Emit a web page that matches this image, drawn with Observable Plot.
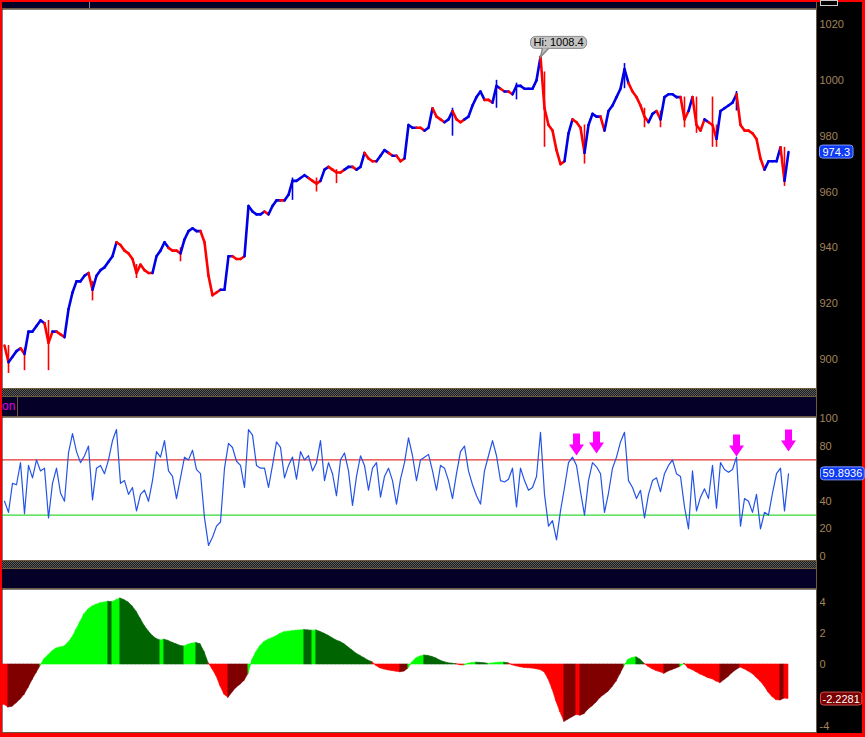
<!DOCTYPE html>
<html><head><meta charset="utf-8">
<script src="https://cdn.jsdelivr.net/npm/d3@7"></script>
<script src="https://cdn.jsdelivr.net/npm/@observablehq/plot@0.6"></script>
<style>
html,body{margin:0;padding:0;background:#ff0000;}
#wrap{position:relative;width:865px;height:737px;background:#ff0000;overflow:hidden;font-family:"Liberation Sans",Arial,sans-serif;}
.a{position:absolute;}
.navy{background:#050028;}
.brown{background:#6e5a3c;height:1px;}
.hatch{background:repeating-conic-gradient(#5a5a5a 0 25%, #1e1e1e 0 50%) 0 0/2px 2px;}
.pan{position:absolute;left:2px;width:860px;}
.pan svg{display:block;}
</style></head><body>
<div id="wrap">
  <div class="a" style="left:2px;top:2px;width:860px;height:731px;background:#000"></div>
  <div class="a navy" style="left:2px;top:2px;width:814px;height:6px"></div>
  <div class="a" style="left:89px;top:2px;width:1px;height:6px;background:#888"></div>
  <div class="a" style="left:820px;top:0px;width:16px;height:4px;border:1px solid #ccc;background:#000"></div>
  <div class="a brown" style="left:2px;top:8px;width:814px"></div>
  <div class="pan" id="p1" style="top:9px"></div>
  <div class="a brown" style="left:2px;top:388px;width:814px"></div>
  <div class="a hatch" style="left:2px;top:389px;width:814px;height:7px"></div>
  <div class="a brown" style="left:2px;top:396px;width:814px"></div>
  <div class="a navy" style="left:2px;top:397px;width:814px;height:19px"></div>
  <div class="a" style="left:2px;top:397px;height:19px;line-height:19px;font-size:12px;color:#e000e0">on</div>
  <div class="a" style="left:17px;top:397px;width:1px;height:19px;background:#6e5a3c"></div>
  <div class="a brown" style="left:2px;top:416px;width:814px"></div>
  <div class="pan" id="p2" style="top:417px"></div>
  <div class="a brown" style="left:2px;top:560px;width:814px"></div>
  <div class="a hatch" style="left:2px;top:561px;width:814px;height:7px"></div>
  <div class="a brown" style="left:2px;top:568px;width:814px"></div>
  <div class="a navy" style="left:2px;top:569px;width:814px;height:19px"></div>
  <div class="a brown" style="left:2px;top:588px;width:814px"></div>
  <div class="pan" id="p3" style="top:589px"></div>
  <div class="a brown" style="left:2px;top:732px;width:814px"></div>
  <div class="a" style="left:816px;top:2px;width:1px;height:731px;background:#6e5a3c"></div>
</div>
<script>
// ---------- DATA ----------
const price = [
  905, 899, 901, 903, 904, 902, 910, 910, 912, 914,
  913, 906, 910, 910, 909, 908, 918, 924, 928, 928,
  930, 931, 925, 930, 932, 933, 935, 937, 942, 941,
  939, 938, 936, 931, 934, 932, 931, 931, 937, 939,
  942, 940, 939, 939, 938, 943, 946, 947, 946, 946,
  942, 930, 923, 924, 925, 925, 937, 937, 936, 936,
  937, 955, 953, 952, 952, 953, 952, 955, 957, 957,
  957, 959, 964, 964, 965, 966, 965, 964, 963, 964,
  968, 969, 968, 967, 967, 968, 969, 969, 968, 969,
  974, 972, 971, 971, 973, 975, 974, 973, 973, 971,
  972, 984, 983, 983, 983, 982, 983, 990, 987, 986,
  985, 986, 989, 986, 985, 986, 987, 991, 994, 996,
  993, 993, 992, 998, 997, 996, 996, 995, 998, 998,
  997, 997, 997, 1000, 1008.4, 990, 984, 982, 975, 970,
  971, 981, 986, 985, 983, 974, 984, 988, 987, 987,
  982, 989, 991, 994, 997, 1004, 999, 996, 994, 991,
  987, 985, 988, 989, 986, 994, 995, 995, 994, 994,
  986, 989, 994, 984, 982, 986, 985, 984, 979, 989,
  990, 991, 992, 995, 984, 982, 982, 981, 979, 972,
  968, 971, 971, 971, 976, 964, 974.3
];
// trend colour of each bar: runs of "u" (blue, up) / "d" (red, down)
const trendRuns = [
  ["d",2],["u",3],["d",1],["u",5],["d",2],["u",1],["d",2],["u",6],["d",1],["u",6],
  ["d",9],["u",4],["d",3],["u",5],["d",5],["u",3],["d",3],["u",5],["d",1],["u",3],
  ["d",1],["u",6],["d",3],["u",2],["d",4],["u",2],["d",1],["u",2],["d",3],["u",3],
  ["d",1],["u",1],["d",2],["u",3],["d",2],["u",2],["d",3],["u",2],["d",3],["u",5],
  ["d",2],["u",2],["d",1],["u",1],["d",1],["u",7],["d",6],["u",2],["d",3],["u",4],
  ["d",1],["u",6],["d",5],["u",2],["d",1],["u",5],["d",2],["u",1],["d",3],["u",1],
  ["d",2],["u",5],["d",7],["u",4],["d",1],["u",1]
];
const wickIdx  = [1, 5, 11, 22, 33, 44, 72, 78, 83, 112, 123, 128, 135, 145, 155, 160, 164, 170, 173, 177, 178, 183, 195];
const wickLow  = [895, 896, 896, 921, 929, 935, 957, 960, 963, 980, 990, 993, 976, 970, 997, 983, 983, 983, 981, 976, 976, 989, 962];
const wickHigh = [905, 904, 914, 928, 934, 940, 965, 965, 968, 990, 1000, 999, 1003, 984, 1006, 990, 989, 994, 994, 994, 984, 996, 976];

const rsi = [
  40, 32, 53, 52, 68, 31, 66, 57, 70, 62,
  64, 28, 53, 64, 46, 40, 75, 89, 76, 68,
  73, 80, 41, 64, 66, 60, 70, 84, 92, 53,
  55, 45, 50, 33, 45, 48, 40, 55, 76, 72,
  84, 62, 58, 42, 57, 72, 70, 77, 63, 60,
  28, 8, 14, 22, 25, 64, 82, 79, 69, 66,
  50, 92, 88, 66, 64, 64, 50, 66, 83, 79,
  57, 66, 72, 56, 76, 70, 73, 62, 68, 84,
  55, 68, 60, 44, 70, 75, 62, 37, 58, 73,
  66, 48, 64, 68, 43, 58, 64, 55, 38, 56,
  68, 86, 73, 55, 70, 72, 74, 62, 48, 66,
  64, 55, 42, 60, 76, 80, 62, 52, 44, 38,
  62, 73, 84, 73, 55, 54, 56, 64, 36, 64,
  55, 48, 50, 58, 90, 45, 22, 26, 12, 33,
  50, 68, 72, 66, 47, 30, 55, 68, 65, 60,
  32, 46, 64, 72, 83, 90, 55, 50, 42, 48,
  28, 45, 55, 57, 47, 60, 66, 70, 60, 58,
  36, 20, 62, 33, 43, 49, 42, 66, 35, 68,
  63, 61, 63, 72, 22, 42, 40, 32, 45, 20,
  32, 30, 46, 60, 64, 33, 59.8936
];
const rsiUpper = 70, rsiLower = 30;
const signalIdx = [143, 148, 183, 196];
const signalLevel = [73.2, 74.6, 72.5, 76.1];

const hist = [
  -2.6, -2.78, -2.72, -2.5, -2.25, -1.95, -1.5, -1.0, -0.55, -0.1,
  0.35, 0.6, 0.85, 1.03, 1.1, 1.16, 1.4, 1.74, 2.25, 2.75,
  3.25, 3.55, 3.75, 3.85, 3.95, 4.0, 4.05, 4.02, 4.15, 4.26,
  4.15, 4.0, 3.75, 3.4, 2.95, 2.5, 2.15, 1.85, 1.65, 1.55,
  1.6, 1.52, 1.4, 1.3, 1.2, 1.16, 1.28, 1.35, 1.38, 1.3,
  0.8, 0.1, -0.3, -0.75, -1.4, -1.95, -2.15, -1.8, -1.5, -1.3,
  -1.05, -0.6, 0.3, 0.8, 1.2, 1.45, 1.6, 1.7, 1.82, 1.98,
  2.08, 2.12, 2.15, 2.18, 2.2, 2.22, 2.2, 2.18, 2.2, 2.1,
  1.98, 1.85, 1.7, 1.55, 1.45, 1.3, 1.1, 0.9, 0.7, 0.55,
  0.4, 0.25, 0.15, -0.1, -0.25, -0.32, -0.38, -0.42, -0.46, -0.5,
  -0.45, -0.25, 0.15, 0.4, 0.52, 0.58, 0.55, 0.48, 0.38, 0.25,
  0.15, 0.08, 0.05, 0.02, -0.05, -0.06, 0.05, 0.1, 0.12, 0.1,
  0.08, 0.04, 0.06, 0.1, 0.12, 0.12, 0.08, -0.05, -0.12, -0.18,
  -0.22, -0.24, -0.26, -0.3, -0.36, -0.5, -0.95, -1.6, -2.4, -3.1,
  -3.7, -3.55, -3.4, -3.25, -3.3, -3.2, -2.9, -2.7, -2.45, -2.15,
  -1.95, -1.75, -1.45, -1.1, -0.6, -0.1, 0.3, 0.42, 0.46, 0.3,
  0.05, -0.15, -0.3, -0.42, -0.5, -0.6, -0.45, -0.35, -0.25, -0.15,
  0.05, -0.25, -0.35, -0.5, -0.65, -0.75, -0.88, -0.95, -1.1, -1.2,
  -1.0, -0.8, -0.55, -0.35, -0.2, -0.3, -0.45, -0.6, -0.85, -1.1,
  -1.4, -1.8, -2.1, -2.3, -2.32, -2.2, -2.2281
];

const priceTicks = [900, 920, 940, 960, 980, 1000, 1020];
const rsiTicks = [0, 20, 40, 60, 80, 100];
const histTicks = [-4, -2, 0, 2, 4];

// ---------- STYLE ----------
const BLUE = "#0000e8", RED = "#ff0000";
const FONT = "'Liberation Sans', Arial, Helvetica, sans-serif";
const X_DOMAIN = [-0.5, 203];

// ---------- DERIVED TABLES ----------
const trend = trendRuns.flatMap(([t, n]) => Array(n).fill(t));
const colOf = i => trend[i] === "d" ? RED : BLUE;
const segs = [];
for (let i = 1; i < price.length; ++i) segs.push({x1: i - 1, y1: price[i - 1], x2: i, y2: price[i], c: colOf(i)});
const wicks = wickIdx.map((i, k) => ({i, lo: wickLow[k], hi: wickHigh[k], c: colOf(i)}));
const hiI = d3.maxIndex(price);
const hiPt = [{i: hiI, v: price[hiI]}];
const rsiData = rsi.map((v, i) => ({i, v}));
const signals = signalIdx.map((i, k) => ({i, v: signalLevel[k]}));
const histColor = hist.map((v, i) => {
  const p = i > 0 ? hist[i - 1] : v + 0.01;
  return v >= 0 ? (v >= p ? "#00ff00" : "#006400") : (v <= p ? "#ff0000" : "#800000");
});
// one filled piece per bar, joining the previous value to this one
const histPts = [];
hist.forEach((v, i) => {
  const a = i > 0 ? {x: i - 1, y: hist[i - 1]} : {x: -0.5, y: v};
  histPts.push({s: i, x: a.x, y: a.y, c: histColor[i]});
  histPts.push({s: i, x: i, y: v, c: histColor[i]});
});

// custom symbols
const arrowDown = {draw(c) {
  c.moveTo(-3.5, -22); c.lineTo(3.5, -22); c.lineTo(3.5, -11); c.lineTo(7.5, -11);
  c.lineTo(0, 0); c.lineTo(-7.5, -11); c.lineTo(-3.5, -11); c.closePath();
}};
const pointer = {draw(c) { c.moveTo(2, -8.5); c.lineTo(0, 0); c.lineTo(8, -8.5); }};

// axis tick labels that sit under the last-value box are hidden, as on the terminal
function visibleTicks(ticks, domain, height, last) {
  const px = height / (domain[1] - domain[0]);
  return ticks.filter(t => Math.abs(t - last) * px > 9);
}

function panel(height, domain, ticks, last, marks) {
  return Plot.plot({
    width: 860, height, marginTop: 0, marginBottom: 0, marginLeft: 0, marginRight: 46,
    x: {domain: X_DOMAIN, axis: null},
    y: {domain, axis: "right", ticks: visibleTicks(ticks, domain, height, last), tickSize: 0, tickPadding: 3, tickFormat: d => String(d), label: null},
    color: {type: "identity"},
    style: {background: "#000", color: "#a3845c", fontSize: "11px", fontFamily: FONT, overflow: "visible"},
    marks: [Plot.frame({fill: "#fff", stroke: "none"}), ...marks]
  });
}

const lastOf = arr => arr[arr.length - 1];
const lastLabel = arr => Plot.text([{v: lastOf(arr)}], {y: "v", frameAnchor: "right", dx: 6, textAnchor: "start", text: d => String(d.v), fill: "#fff", fontSize: 11});

const p1 = panel(379, [889.61, 1025.37], priceTicks, lastOf(price), [
  Plot.ruleX(wicks, {x: "i", y1: "lo", y2: "hi", stroke: "c", strokeWidth: 1.6}),
  Plot.link(segs, {x1: "x1", y1: "y1", x2: "x2", y2: "y2", stroke: "c", strokeWidth: 2.6, strokeLinecap: "round"}),
  Plot.text(hiPt, {x: "i", y: "v", text: d => "Hi: " + d.v, dx: -7, dy: -14, textAnchor: "start", fill: "#000", fontSize: 11}),
  Plot.dot(hiPt, {x: "i", y: "v", symbol: pointer, fill: "#c4c4c4", stroke: "#8a8a8a"}),
  lastLabel(price)
]);
const p2 = panel(143, [-2.9, 100.72], rsiTicks, lastOf(rsi), [
  Plot.ruleY([rsiUpper], {stroke: "#e00000"}),
  Plot.ruleY([rsiLower], {stroke: "#00d000"}),
  Plot.line(rsiData, {x: "i", y: "v", stroke: "#2454e6", strokeWidth: 1.2}),
  Plot.dot(signals, {x: "i", y: "v", symbol: arrowDown, fill: "#ff00ff", stroke: "none"}),
  lastLabel(rsi)
]);
const p3 = panel(143, [-4.387, 4.839], histTicks, lastOf(hist), [
  Plot.area(histPts, {x1: "x", y1: () => 0, y2: "y", z: "s", fill: "c", stroke: "c", strokeWidth: 0.6}),
  lastLabel(hist)
]);

document.getElementById("p1").appendChild(p1);
document.getElementById("p2").appendChild(p2);
document.getElementById("p3").appendChild(p3);

// rounded value boxes drawn behind the given texts
function boxes(svg, str, o) {
  const sb = svg.getBoundingClientRect();
  svg.querySelectorAll("text").forEach(t => {
    if (t.textContent !== str) return;
    const r = t.getBoundingClientRect();
    const rect = document.createElementNS("http://www.w3.org/2000/svg", "rect");
    rect.setAttribute("x", r.left - sb.left - o.px);
    rect.setAttribute("y", r.top - sb.top - o.py);
    rect.setAttribute("width", r.width + 2 * o.px);
    rect.setAttribute("height", r.height + 2 * o.py);
    rect.setAttribute("rx", o.rx);
    rect.setAttribute("fill", o.fill);
    rect.setAttribute("stroke", o.stroke);
    svg.appendChild(rect);
    const g = t.parentNode;
    svg.appendChild(g === svg ? t : g);
  });
}
boxes(p1, "Hi: " + price[hiI], {px: 3, py: 0, rx: 5, fill: "#c4c4c4", stroke: "#8a8a8a"});
p1.querySelectorAll('g[aria-label="dot"]').forEach(g => p1.appendChild(g));
boxes(p1, String(lastOf(price)), {px: 3, py: 0.5, rx: 3, fill: "#0c3af5", stroke: "#8098ff"});
boxes(p2, String(lastOf(rsi)), {px: 2, py: 0.5, rx: 3, fill: "#0c3af5", stroke: "#8098ff"});
boxes(p3, String(lastOf(hist)), {px: 2, py: 0.5, rx: 3, fill: "#7a0000", stroke: "#d05050"});
</script>
</body></html>
